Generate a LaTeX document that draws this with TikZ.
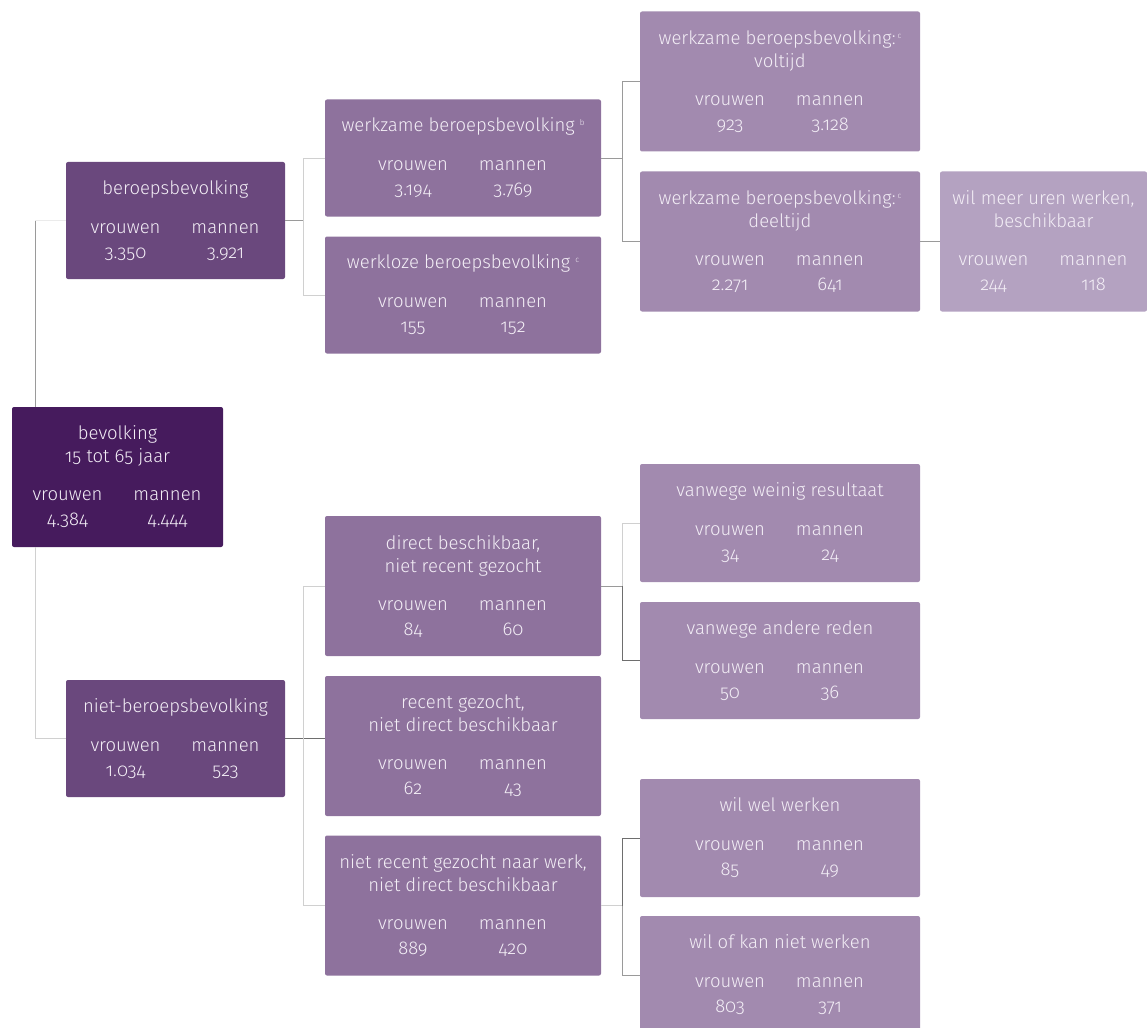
\documentclass[tikz,border=0pt]{standalone}
\usepackage{fontspec}
\setmainfont{Fira Sans Light}[Numbers=OldStyle]
\usetikzlibrary{calc}
\definecolor{cA}{HTML}{461B5D}
\definecolor{cB}{HTML}{6A487D}
\definecolor{cC}{HTML}{8E729D}
\definecolor{cD}{HTML}{A28AAF}
\definecolor{cE}{HTML}{B4A2C1}
\definecolor{txt}{HTML}{F3EEF6}
\definecolor{lnL}{HTML}{D0D0D0}
\definecolor{lnM}{HTML}{9A9A9A}
\definecolor{lnD}{HTML}{6E6E6E}
\newcommand{\pr}[2]{\makebox[100pt]{#1}\makebox[100pt]{#2}}
\newcommand{\vm}[2]{\pr{vrouwen}{mannen}\\[2pt]\pr{#1}{#2}}
\newcommand{\sups}[1]{\raisebox{6pt}{\fontsize{8}{8}\selectfont #1}}
\begin{document}
\begin{tikzpicture}[x=1pt,y=-1pt,
  box/.style={rounded corners=2pt, inner sep=0pt, outer sep=0pt, text=txt, align=center,
              font=\fontsize{18.5}{23}\selectfont},
  wA/.style={minimum width=211pt},
  wB/.style={minimum width=219pt},
  wC/.style={minimum width=276pt},
  wD/.style={minimum width=280pt},
  hS/.style={minimum height=117pt},
  hT/.style={minimum height=140pt},
  connL/.style={draw=lnL, line width=0.8pt},
  connM/.style={draw=lnM, line width=0.8pt},
  connD/.style={draw=lnD, line width=0.8pt},
  connX/.style={draw=black!8, line width=0.8pt}]
\useasboundingbox (0,0) rectangle (1147,1027);

% level 1
\node[box, fill=cA, wA, hT] (bev) at (117.5,477) {bevolking\\15 tot 65 jaar\\[15pt]\vm{4.384}{4.444}};
% level 2
\node[box, fill=cB, wB, hS] (ber) at (175.5,220.5) {beroepsbevolking\\[16pt]\vm{3.350}{3.921}};
\node[box, fill=cB, wB, hS] (nber) at (175.5,738.5) {niet-beroepsbevolking\\[16pt]\vm{1.034}{523}};
% level 3
\node[box, fill=cC, wC, hS] (wzb) at (463,158) {werkzame beroepsbevolking \sups{b}\\[16pt]\vm{3.194}{3.769}};
\node[box, fill=cC, wC, hS] (wlb) at (463,295) {werkloze beroepsbevolking \sups{c}\\[16pt]\vm{155}{152}};
\node[box, fill=cC, wC, hT] (dir) at (463,586) {direct beschikbaar,\\niet recent gezocht\\[15pt]\vm{84}{60}};
\node[box, fill=cC, wC, hT] (rec) at (463,746) {recent gezocht,\\niet direct beschikbaar\\[15pt]\vm{62}{43}};
\node[box, fill=cC, wC, hT] (nrec) at (463,905.5) {niet recent gezocht naar werk,\\niet direct beschikbaar\\[15pt]\vm{889}{420}};
% level 4
\node[box, fill=cD, wD, hT] (vol) at (780,81.5) {werkzame beroepsbevolking:\hspace{2pt}\sups{c}\\voltijd\\[15pt]\vm{923}{3.128}};
\node[box, fill=cD, wD, hT] (deel) at (780,241.5) {werkzame beroepsbevolking:\hspace{2pt}\sups{c}\\deeltijd\\[15pt]\vm{2.271}{641}};
\node[box, fill=cD, wD, minimum height=118pt] (wein) at (780,523) {vanwege weinig resultaat\\[16pt]\vm{34}{24}};
\node[box, fill=cD, wD, hS] (andr) at (780,660.5) {vanwege andere reden\\[16pt]\vm{50}{36}};
\node[box, fill=cD, wD, minimum height=118pt] (wel) at (780,838) {wil wel werken\\[16pt]\vm{85}{49}};
\node[box, fill=cD, wD, minimum height=118pt] (kan) at (780,975) {wil of kan niet werken\\[16pt]\vm{803}{371}};
% level 5
\node[box, fill=cE, minimum width=207pt, hT] (meer) at (1043.5,241.5) {wil meer uren werken,\\beschikbaar\\[15pt]\vm{244}{118}};

% connectors
\coordinate (bt) at ($(bev.north west)+(23,0)$);
\coordinate (bb) at ($(bev.south west)+(23,0)$);
\draw[connM] (bt) -- (bt |- ber.west);
\draw[connX] (bt |- ber.west) -- (ber.west);
\draw[connL] (bb) |- (nber.west);

\draw[connM] (ber.east) -- ++(18,0) coordinate (k1);
\draw[connL] (k1) |- (wzb.west);
\draw[connL] (k1) |- (wlb.west);

\draw[connM] (wzb.east) -- ++(21,0) coordinate (k2);
\draw[connM] (k2) |- (vol.west);
\draw[connM] (k2) |- (deel.west);
\draw[connM] (deel.east) -- (meer.west);

\draw[connD] (nber.east) -- ++(18,0) coordinate (k3) -- (rec.west |- nber.east);
\draw[connL] (k3) |- (dir.west);
\draw[connL] (k3) |- (nrec.west);

\draw[connM] (dir.east) -- ++(21,0) coordinate (k4);
\draw[connL] (k4) |- (wein.west);
\draw[connD] (k4) |- (andr.west);

\draw[connL] (nrec.east) -- ++(21,0) coordinate (k5);
\draw[connD] (k5) |- (wel.west);
\draw[connM] (k5) |- (kan.west);
\end{tikzpicture}
\end{document}
